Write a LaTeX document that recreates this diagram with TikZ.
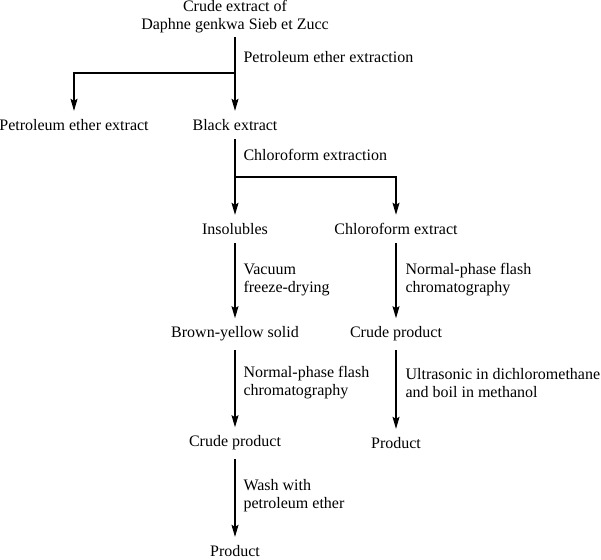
\documentclass[tikz,border=0pt]{standalone}
\usepackage{fontspec}
\setmainfont{Liberation Serif}
\usepackage{tikz}
\usetikzlibrary{arrows.meta}

\begin{document}
\begin{tikzpicture}[x=1pt, y=-1pt, line width=1.1pt,
    every node/.style={font=\fontsize{16}{18}\selectfont, inner xsep=3pt},
    stage/.style={align=center, inner ysep=8pt},
    cond/.style={anchor=west, align=left, inner sep=0pt},
    flow/.style={-{Stealth[length=12pt, width=7pt, inset=2pt]}}]
  \useasboundingbox (0,0) rectangle (601,559);

  % products
  \node[stage, inner ysep=3pt] (crude) at (235,17) {Crude extract of\\Daphne genkwa Sieb et Zucc};
  \node[stage] (petext) at (74,125)  {Petroleum ether extract};
  \node[stage] (black)  at (235,125) {Black extract};
  \node[stage] (insol)  at (235,229) {Insolubles};
  \node[stage] (chlext) at (396,229) {Chloroform extract};
  \node[stage] (brown)  at (235,334) {Brown-yellow solid};
  \node[stage] (crudeR) at (396,334) {Crude product};
  \node[stage] (crudeL) at (235,443) {Crude product};
  \node[stage] (prodR)  at (396,443) {Product};
  \node[stage] (prodL)  at (235,551) {Product};

  % branch points
  \coordinate (split1) at (235,73);
  \coordinate (split2) at (235,177);

  \draw (crude) -- (split1);
  \draw[flow] (split1) -- (black);
  \draw[flow] (split1) -| (petext);
  \draw (black) -- (split2);
  \draw[flow] (split2) -- (insol);
  \draw[flow] (split2) -| (chlext);
  \draw[flow] (insol) -- (brown);
  \draw[flow] (chlext) -- (crudeR);
  \draw[flow] (brown) -- (crudeL);
  \draw[flow] (crudeR) -- (prodR);
  \draw[flow] (crudeL) -- (prodL);

  % conditions
  \node[cond] (c1) at (243,57)  {Petroleum ether extraction};
  \node[cond] (c2) at (243,155) {Chloroform extraction};
  \node[cond] (c3) at (243,280) {Vacuum\\freeze-drying};
  \node[cond] (c4) at (405,280) {Normal-phase flash\\chromatography};
  \node[cond] (c5) at (243,383) {Normal-phase flash\\chromatography};
  \node[cond] (c6) at (405,383) {Ultrasonic in dichloromethane\\and boil in methanol};
  \node[cond] (c7) at (243,496) {Wash with\\petroleum ether};
\end{tikzpicture}
\end{document}
